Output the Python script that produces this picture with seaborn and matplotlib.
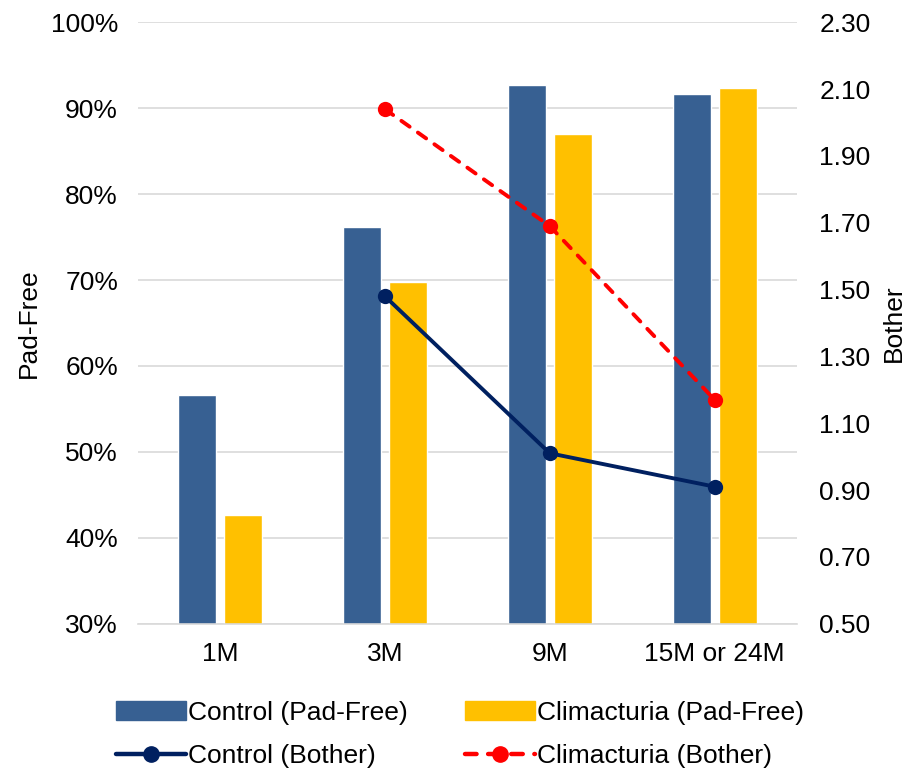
import numpy as np
import pandas as pd
import matplotlib
matplotlib.use("Agg")
import matplotlib.pyplot as plt
import seaborn as sns
from matplotlib.patches import Patch
from matplotlib.lines import Line2D

# data
categories = ['1M', '3M', '9M', '15M or 24M']
control_padfree = [56.6, 76.2, 92.7, 91.6]
clim_padfree = [42.6, 69.8, 87.0, 92.4]
bother_cats = ['3M', '9M', '15M or 24M']
control_bother = [1.48, 1.01, 0.91]
clim_bother = [2.04, 1.69, 1.17]

# colours
c_ctrl = '#376092'
c_clim = '#FFC000'
c_ctrl_line = '#002060'
c_clim_line = '#FF0000'
fs = 19
dash = (0, (2.6, 2.6))

sns.set_theme(style='white')
plt.rcParams['font.family'] = ['Liberation Sans', 'DejaVu Sans']
plt.rcParams['text.color'] = 'black'
plt.rcParams['axes.labelcolor'] = 'black'

df = pd.DataFrame({
    'period': categories * 2,
    'value': control_padfree + clim_padfree,
    'group': ['Control (Pad-Free)'] * 4 + ['Climacturia (Pad-Free)'] * 4,
})

fig = plt.figure(figsize=(9.11, 7.69), dpi=100)
ax = fig.add_axes([0.151, 0.189, 0.724, 0.782])

sns.barplot(data=df, x='period', y='value', hue='group', order=categories,
            palette=[c_ctrl, c_clim], width=0.56, gap=0.18, ax=ax,
            legend=False, saturation=1)
ax.set_ylim(30, 100)
ax.set_xlim(-0.5, 3.5)
ax.set_yticks(np.arange(30, 101, 10))
ax.set_yticklabels([f'{v}%' for v in range(30, 101, 10)])
ax.yaxis.grid(True, color='#D9D9D9', linewidth=1.2)
ax.set_axisbelow(True)
ax.set_xlabel('')
ax.set_ylabel('Pad-Free', fontsize=fs, labelpad=7)
for s in ['top', 'left', 'right']:
    ax.spines[s].set_visible(False)
ax.spines['bottom'].set_color('#D9D9D9')
ax.spines['bottom'].set_linewidth(1.2)
ax.tick_params(axis='both', length=0, labelsize=fs, colors='black')
ax.tick_params(axis='x', pad=13)
ax.tick_params(axis='y', pad=14)

ax2 = ax.twinx()
xpos = [categories.index(c) for c in bother_cats]
sns.lineplot(x=xpos, y=control_bother, ax=ax2, color=c_ctrl_line, linewidth=2.8,
             marker='o', markersize=11, markeredgewidth=0)
sns.lineplot(x=xpos, y=clim_bother, ax=ax2, color=c_clim_line, linewidth=2.8,
             linestyle=dash, dash_capstyle='round', marker='o', markersize=11,
             markeredgewidth=0)
ax2.set_ylim(0.5, 2.3)
ax2.set_yticks(np.arange(0.5, 2.31, 0.2))
ax2.set_yticklabels([f'{v:.2f}' for v in np.arange(0.5, 2.31, 0.2)])
ax2.set_xlim(-0.5, 3.5)
ax2.set_ylabel('Bother', fontsize=fs, labelpad=8, rotation=90)
for s in ['top', 'left', 'right', 'bottom']:
    ax2.spines[s].set_visible(False)
ax2.tick_params(axis='y', length=0, labelsize=fs, colors='black', pad=16)

# order so that ncol=2 gives bars on row 1, lines on row 2
handles = [
    Patch(color=c_ctrl, label='Control (Pad-Free)'),
    Line2D([], [], color=c_ctrl_line, lw=3.2, marker='o', ms=11, label='Control (Bother)'),
    Patch(color=c_clim, label='Climacturia (Pad-Free)'),
    Line2D([], [], color=c_clim_line, lw=3.2, ls=dash, dash_capstyle='round',
           marker='o', ms=11, label='Climacturia (Bother)'),
]
fig.legend(handles=handles, ncol=2, loc='lower center', bbox_to_anchor=(0.505, -0.03),
           frameon=False, fontsize=fs, handlelength=2.65, handleheight=0.75,
           columnspacing=2.2, handletextpad=0.05, labelspacing=0.75)

fig.savefig('out.png', dpi=100)
